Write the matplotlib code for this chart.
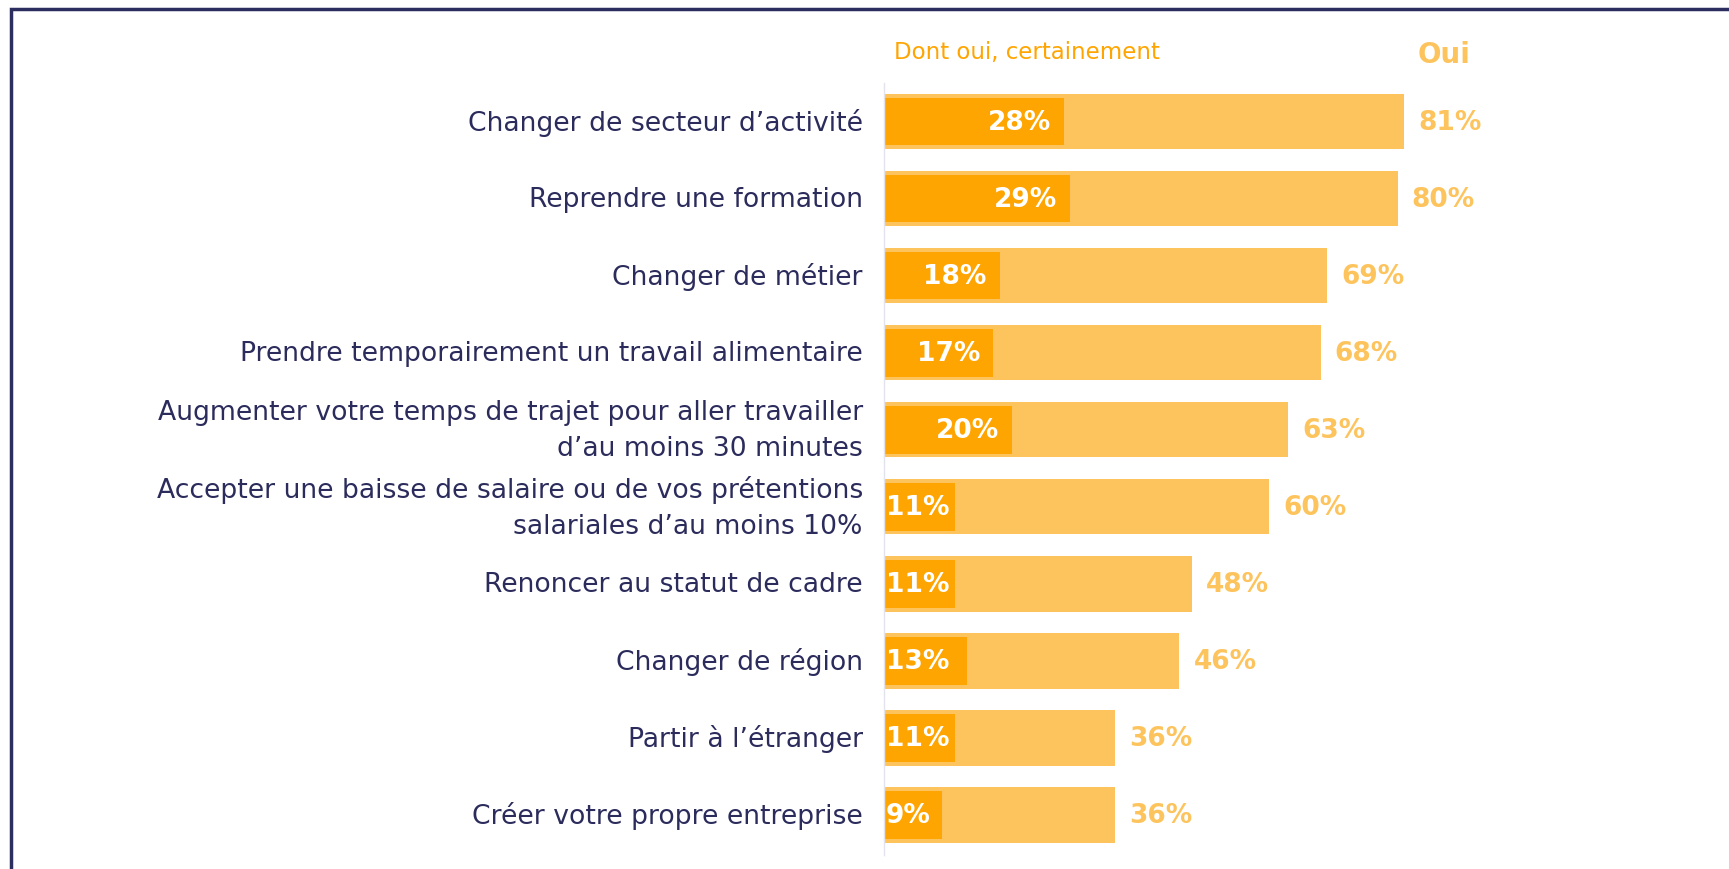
import matplotlib
matplotlib.use("Agg")
import matplotlib.pyplot as plt
from matplotlib.patches import Rectangle

labels = [
    "Changer de secteur d\u2019activité",
    "Reprendre une formation",
    "Changer de métier",
    "Prendre temporairement un travail alimentaire",
    "Augmenter votre temps de trajet pour aller travailler\nd\u2019au moins 30 minutes",
    "Accepter une baisse de salaire ou de vos prétentions\nsalariales d\u2019au moins 10%",
    "Renoncer au statut de cadre",
    "Changer de région",
    "Partir à l\u2019étranger",
    "Créer votre propre entreprise",
]
oui = [81, 80, 69, 68, 63, 60, 48, 46, 36, 36]
certainement = [28, 29, 18, 17, 20, 11, 11, 13, 11, 9]

light = "#FDC45E"
dark = "#FFA502"
navy = "#2B2B5C"
font = "DejaVu Sans"

W, H = 1729, 870
fig = plt.figure(figsize=(W / 100, H / 100), dpi=100)
ax = fig.add_axes([884 / W, 1 - 856 / H, (W - 884) / W, (856 - 84) / H])

y = range(len(labels))
ax.barh(y, oui, height=0.72, color=light, zorder=1)
ax.barh(y, certainement, height=0.62, color=dark, zorder=2)

for i, (lab, o, c) in enumerate(zip(labels, oui, certainement)):
    ax.text(-3.3, i, lab, ha="right", va="center", multialignment="right",
            fontsize=19.2, color=navy, family=font, linespacing=1.48, clip_on=False)
    ax.text(o + 2.2, i, f"{o}%", ha="left", va="center", fontsize=19,
            fontweight="bold", color=light, family=font)
    if c >= 15:
        ax.text(c - 2, i, f"{c}%", ha="right", va="center", fontsize=19,
                fontweight="bold", color="white", family=font, zorder=3)
    else:
        ax.text(0.3, i, f"{c}%", ha="left", va="center", fontsize=19,
                fontweight="bold", color="white", family=font, zorder=3)

ax.set_xlim(0, (W - 884) / 6.42)
ax.set_ylim(len(labels) - 0.48, -0.5)
ax.set_xticks([]); ax.set_yticks([])
for s in ["top", "right", "bottom"]:
    ax.spines[s].set_visible(False)
ax.spines["left"].set_color("#E3E3EE")
ax.spines["left"].set_linewidth(1)

# column headers
fig.text(894 / W, 1 - 53 / H, "Dont oui, certainement", ha="left", va="center",
         fontsize=16.5, color=dark, family=font)
fig.text(1418 / W, 1 - 55 / H, "Oui", ha="left", va="center", fontsize=20,
         fontweight="bold", color=light, family=font)

# frame cut off at right and bottom
fig.patches.append(Rectangle((11 / W, -0.1), 1.2, 1 - 10 / H + 0.1, transform=fig.transFigure,
                             fill=False, edgecolor="#2B2E5E", linewidth=2.5))

fig.savefig("out.png", dpi=100)
print("saved out.png")
